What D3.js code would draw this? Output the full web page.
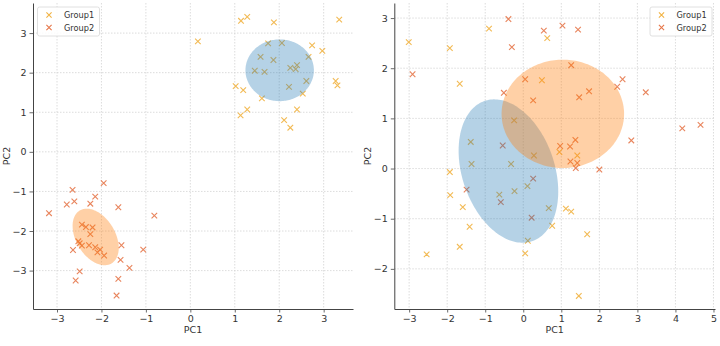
<!DOCTYPE html>
<html>
<head>
<meta charset="utf-8">
<script src="https://cdn.jsdelivr.net/npm/d3@7"></script>
<style>
  body { margin: 0; background: #fff; }
  svg { display: block; }
  text { font-family: "DejaVu Sans", sans-serif; }
</style>
</head>
<body>
<svg id="chart" width="720" height="346"></svg>
<script>
// ---- data -------------------------------------------------------------
const groups = ["Group1", "Group2"];

// Left panel: two well separated clusters
const leftGroup1 = [
  [0.17, 2.79], [1.14, 3.31], [1.28, 3.41], [1.88, 3.27], [3.35, 3.34],
  [1.75, 2.74], [2.06, 2.75], [2.74, 2.69], [2.97, 2.55], [1.58, 2.40],
  [1.87, 2.32], [2.66, 2.40], [1.45, 2.05], [1.67, 2.02], [2.25, 2.12],
  [2.37, 2.09], [2.40, 2.19], [1.02, 1.66], [1.19, 1.56], [2.22, 1.64],
  [2.61, 1.79], [3.27, 1.79], [3.31, 1.68], [1.61, 1.35], [2.53, 1.47],
  [1.28, 1.07], [1.13, 0.92], [2.40, 1.07], [2.11, 0.80], [2.25, 0.61]
];
const leftGroup2 = [
  [-1.95, -0.79], [-2.65, -0.96], [-2.61, -1.25], [-2.78, -1.33], [-2.14, -1.13],
  [-2.25, -1.31], [-3.18, -1.55], [-1.62, -1.40], [-0.81, -1.61], [-2.44, -1.84],
  [-2.35, -1.90], [-2.20, -1.91], [-2.25, -2.08], [-2.52, -2.26], [-2.49, -2.31],
  [-2.64, -2.48], [-2.44, -2.37], [-2.28, -2.36], [-2.14, -2.41], [-2.03, -2.47],
  [-2.09, -2.54], [-1.94, -2.62], [-1.55, -2.36], [-1.57, -2.73], [-1.06, -2.47],
  [-1.37, -2.93], [-2.49, -3.02], [-1.62, -3.21], [-2.58, -3.25], [-1.66, -3.63]
];

// Right panel: overlapping clusters
const rightGroup1 = [
  [-3.01, 2.52], [-1.93, 2.40], [-1.67, 1.69], [-0.90, 2.79], [0.63, 2.60],
  [0.49, 1.76], [-0.24, 0.96], [-1.38, 0.53], [-1.36, 0.09], [-0.32, 0.09],
  [0.28, 0.26], [0.95, 0.33], [1.42, 0.26], [-1.93, -0.07], [0.11, -0.35],
  [-0.23, -0.45], [-0.63, -0.52], [-1.92, -0.53], [-1.59, -0.77], [0.67, -0.79],
  [1.12, -0.80], [1.26, -0.86], [0.76, -1.14], [-1.41, -1.16], [1.68, -1.31],
  [0.12, -1.44], [-1.67, -1.56], [-2.54, -1.71], [0.05, -1.69], [1.46, -2.54]
];
const rightGroup2 = [
  [-2.91, 1.88], [-0.39, 2.98], [-0.30, 2.42], [0.54, 2.75], [1.03, 2.85],
  [1.44, 2.77], [1.26, 2.06], [0.05, 1.78], [-0.51, 1.51], [0.26, 1.36],
  [1.47, 1.42], [1.73, 1.54], [2.47, 1.63], [2.61, 1.78], [3.22, 1.52],
  [4.18, 0.80], [4.66, 0.87], [2.84, 0.56], [-0.54, 0.46], [0.97, 0.45],
  [1.23, 0.44], [1.37, 0.57], [1.24, 0.14], [1.42, 0.11], [1.38, 0.01],
  [2.00, -0.02], [0.26, -0.20], [-1.49, -0.42], [-0.59, -0.67], [0.22, -0.98]
];

// Confidence ellipses: centre, semi-axes and rotation (degrees) in data units
const leftEllipses = [
  { group: "Group1", cx: 2.01, cy: 2.06, a: 0.77, b: 0.78, angle: 0 },
  { group: "Group2", cx: -2.13, cy: -2.15, a: 0.76, b: 0.45, angle: -65 }
];
const rightEllipses = [
  { group: "Group1", cx: -0.39, cy: -0.05, a: 1.56, b: 1.15, angle: -53.6 },
  { group: "Group2", cx: 1.04, cy: 1.09, a: 1.61, b: 1.08, angle: 0 }
];

const leftXTicks = [-3, -2, -1, 0, 1, 2, 3];
const leftYTicks = [-3, -2, -1, 0, 1, 2, 3];
const rightXTicks = [-3, -2, -1, 0, 1, 2, 3, 4, 5];
const rightYTicks = [-2, -1, 0, 1, 2, 3];

// ---- styling ----------------------------------------------------------
const markerColor = { Group1: "#f1b241", Group2: "#e6774a" };
const ellipseColor = { Group1: "#1f77b4", Group2: "#ff7f0e" };
const ellipseOpacity = { Group1: 0.33, Group2: 0.37 };

const svg = d3.select("#chart");
const fmt = d => (d < 0 ? "\u2212" + Math.abs(d) : String(d));

function drawPanel(cfg) {
  const x = d3.scaleLinear().domain(cfg.xDomain).range([cfg.left, cfg.right]);
  const y = d3.scaleLinear().domain(cfg.yDomain).range([cfg.bottom, cfg.top]);
  const g = svg.append("g");

  // grid
  const grid = g.append("g")
    .attr("stroke", "#d3d3d3").attr("stroke-width", 0.8)
    .attr("stroke-dasharray", "1.5,1.5");
  grid.selectAll("line.v").data(cfg.xTicks).join("line")
    .attr("x1", d => x(d)).attr("x2", d => x(d))
    .attr("y1", cfg.top).attr("y2", cfg.bottom);
  grid.selectAll("line.h").data(cfg.yTicks).join("line")
    .attr("y1", d => y(d)).attr("y2", d => y(d))
    .attr("x1", cfg.left).attr("x2", cfg.right);

  // markers
  const r = 2.8;
  const series = [["Group1", cfg.g1], ["Group2", cfg.g2]];
  series.forEach(([name, pts]) => {
    g.append("g").selectAll("path").data(pts).join("path")
      .attr("d", d => {
        const px = x(d[0]), py = y(d[1]);
        return `M${px - r},${py - r}L${px + r},${py + r}M${px - r},${py + r}L${px + r},${py - r}`;
      })
      .attr("fill", "none")
      .attr("stroke", markerColor[name])
      .attr("stroke-width", 1.1)
      .attr("stroke-opacity", 0.9);
  });

  // ellipses on top of the markers
  const line = d3.line().curve(d3.curveLinearClosed);
  const ts = d3.range(0, 2 * Math.PI, Math.PI / 90);
  cfg.ellipses.forEach(e => {
    const th = e.angle * Math.PI / 180;
    const pts = ts.map(t => {
      const dx = e.a * Math.cos(t), dy = e.b * Math.sin(t);
      return [x(e.cx + dx * Math.cos(th) - dy * Math.sin(th)),
              y(e.cy + dx * Math.sin(th) + dy * Math.cos(th))];
    });
    g.append("path").attr("d", line(pts))
      .attr("fill", ellipseColor[e.group])
      .attr("fill-opacity", ellipseOpacity[e.group])
      .attr("stroke", "none");
  });

  // axes
  const ax = g.append("g").attr("transform", `translate(0,${cfg.bottom})`)
    .call(d3.axisBottom(x).tickValues(cfg.xTicks).tickFormat(fmt)
      .tickSize(3.5).tickSizeOuter(0).tickPadding(3));
  const ay = g.append("g").attr("transform", `translate(${cfg.left},0)`)
    .call(d3.axisLeft(y).tickValues(cfg.yTicks).tickFormat(fmt)
      .tickSize(3.5).tickSizeOuter(0).tickPadding(3));
  [ax, ay].forEach(a => {
    a.select(".domain").attr("stroke", "#444").attr("stroke-width", 1);
    a.selectAll(".tick line").attr("stroke", "#444").attr("stroke-width", 0.8);
    a.selectAll(".tick text").attr("fill", "#333")
      .style("font-size", "9.5px").style("font-family", "DejaVu Sans, sans-serif");
  });

  // axis titles
  g.append("text").attr("x", (cfg.left + cfg.right) / 2).attr("y", cfg.bottom + 24)
    .attr("text-anchor", "middle").attr("fill", "#333").style("font-size", "9.5px")
    .text("PC1");
  g.append("text")
    .attr("transform", `translate(${cfg.left - 23},${(cfg.top + cfg.bottom) / 2}) rotate(-90)`)
    .attr("text-anchor", "middle").attr("fill", "#333").style("font-size", "9.5px")
    .text("PC2");

  // legend
  const lg = g.append("g").attr("transform", `translate(${cfg.legendX},7)`);
  lg.append("rect").attr("width", 62).attr("height", 29).attr("rx", 2)
    .attr("fill", "#fff").attr("fill-opacity", 0.85)
    .attr("stroke", "#d8d8d8").attr("stroke-width", 0.8);
  groups.forEach((name, i) => {
    const cy = 8 + i * 12.5, cx = 11.5, s = 2.6;
    lg.append("path")
      .attr("d", `M${cx - s},${cy - s}L${cx + s},${cy + s}M${cx - s},${cy + s}L${cx + s},${cy - s}`)
      .attr("stroke", markerColor[name]).attr("stroke-width", 1.1).attr("fill", "none");
    lg.append("text").attr("x", 26.5).attr("y", cy + 3)
      .attr("fill", "#333").style("font-size", "8.2px").text(name);
  });
}

drawPanel({
  left: 33, right: 353, top: 3, bottom: 309,
  xDomain: [-3.54, 3.66], yDomain: [-3.97, 3.76],
  xTicks: leftXTicks, yTicks: leftYTicks,
  g1: leftGroup1, g2: leftGroup2, ellipses: leftEllipses,
  legendX: 37.5
});

drawPanel({
  left: 394.3, right: 715, top: 3, bottom: 309,
  xDomain: [-3.39, 5.04], yDomain: [-2.80, 3.30],
  xTicks: rightXTicks, yTicks: rightYTicks,
  g1: rightGroup1, g2: rightGroup2, ellipses: rightEllipses,
  legendX: 650
});
</script>
</body>
</html>
